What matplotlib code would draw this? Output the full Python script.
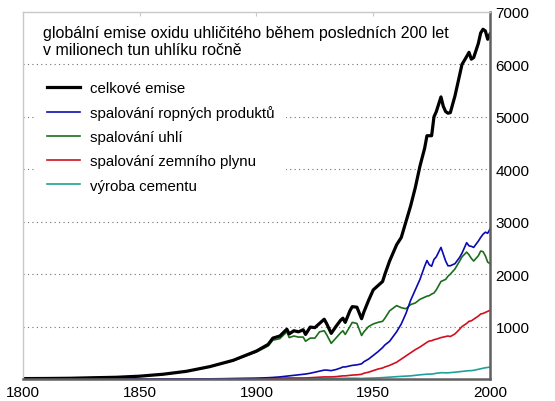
import matplotlib
matplotlib.use("Agg")
import matplotlib.pyplot as plt

plt.rcParams['font.family'] = ['Liberation Sans', 'DejaVu Sans']

years = [1800, 1810, 1820, 1830, 1840, 1850, 1860, 1870, 1880, 1890,
         1900, 1905, 1907, 1910, 1913, 1914, 1916, 1918, 1920, 1921,
         1923, 1925, 1927, 1929, 1930, 1932, 1934, 1936, 1937, 1938,
         1940, 1941, 1943, 1945, 1946, 1948, 1950, 1952, 1954, 1955,
         1957, 1960, 1962, 1964, 1966, 1968, 1970, 1972, 1973, 1974,
         1975, 1976, 1977, 1979, 1980, 1981, 1982, 1983, 1985, 1987,
         1988, 1990, 1991, 1992, 1993, 1995, 1996, 1997, 1998, 1999,
         2000]

total = [8, 10, 14, 24, 33, 54, 91, 147, 236, 356,
         534, 660, 780, 820, 950, 860, 920, 900, 940, 850,
         990, 980, 1060, 1140, 1060, 870, 1000, 1120, 1160, 1080,
         1300, 1380, 1370, 1150, 1280, 1500, 1700, 1780, 1860, 2000,
         2250, 2560, 2700, 3000, 3300, 3650, 4060, 4400, 4640, 4640,
         4640, 5000, 5100, 5380, 5200, 5100, 5070, 5080, 5400, 5800,
         6000, 6150, 6230, 6100, 6130, 6400, 6600, 6670, 6640, 6480,
         6580]

coal = [8, 10, 14, 24, 33, 54, 91, 147, 235, 350,
        515, 630, 740, 770, 900, 790, 820, 800, 800, 720,
        780, 780, 900, 920, 850, 680, 780, 880, 920, 850,
        1000, 1080, 1060, 830, 900, 1000, 1050, 1080, 1100, 1160,
        1300, 1400, 1360, 1340, 1420, 1450, 1520, 1560, 1580, 1590,
        1620, 1640, 1700, 1860, 1880, 1900, 1960, 2000, 2100, 2250,
        2330, 2420, 2370, 2300, 2250, 2350, 2440, 2430, 2350, 2230,
        2200]

oil = [0, 0, 0, 0, 0, 0, 0, 1, 3, 9,
       16, 25, 30, 40, 55, 60, 70, 80, 90, 95,
       110, 130, 150, 170, 170, 160, 180, 210, 230, 230,
       250, 260, 270, 290, 330, 380, 450, 520, 600, 650,
       720, 900, 1050, 1250, 1500, 1700, 1900, 2150, 2260, 2180,
       2150, 2280, 2330, 2510, 2380, 2250, 2160, 2160, 2200, 2320,
       2400, 2600, 2540, 2530, 2510, 2630, 2700, 2760, 2800, 2780,
       2860]

gas = [0, 0, 0, 0, 0, 0, 0, 0, 0, 5,
       8, 10, 12, 15, 20, 20, 20, 20, 20, 20,
       25, 30, 35, 40, 40, 40, 45, 55, 60, 60,
       70, 75, 80, 90, 110, 130, 160, 190, 210, 230,
       260, 320, 380, 440, 500, 560, 610, 670, 700, 725,
       730, 750, 760, 790, 800, 810, 820, 810, 860, 950,
       1000, 1060, 1100, 1110, 1140, 1200, 1240, 1250, 1270, 1290,
       1310]

cement = [0, 0, 0, 0, 0, 0, 0, 0, 0, 0,
          2, 3, 4, 5, 6, 6, 6, 6, 7, 7,
          8, 9, 10, 11, 11, 10, 11, 13, 14, 14,
          15, 15, 14, 10, 13, 16, 18, 22, 26, 30,
          35, 45, 50, 55, 60, 70, 80, 88, 92, 93,
          95, 100, 110, 120, 120, 118, 118, 122, 130, 140,
          145, 155, 158, 160, 165, 185, 195, 205, 215, 220,
          230]

labels = ["celkové emise", "spalování ropných produktů", "spalování uhlí",
          "spalování zemního plynu", "výroba cementu"]
title = "globální emise oxidu uhličitého během posledních 200 let\nv milionech tun uhlíku ročně"

fig = plt.figure(figsize=(5.55, 4.02), dpi=100)
ax = fig.add_axes([0.0414, 0.0547, 0.8415, 0.913])

# grid first so the legend box hides it
for v in range(1000, 7000, 1000):
    ax.axhline(v, color="#707070", lw=0.8, ls=(0, (1, 3)), zorder=0)

l_cem, = ax.plot(years, cement, color="#20a09a", lw=1.2)
l_gas, = ax.plot(years, gas, color="#d0101e", lw=1.2)
l_coal, = ax.plot(years, coal, color="#1a6e1a", lw=1.2)
l_oil, = ax.plot(years, oil, color="#0a0ab0", lw=1.2)
l_tot, = ax.plot(years, total, color="black", lw=2.3)

ax.set_xlim(1800, 2000)
ax.set_ylim(0, 7000)
ax.set_xticks([1800, 1850, 1900, 1950, 2000])
ax.set_yticks([1000, 2000, 3000, 4000, 5000, 6000, 7000])
ax.yaxis.tick_right()
ax.tick_params(axis="both", length=0, labelsize=11, pad=4)

for s in ["left", "top"]:
    ax.spines[s].set_color("#c8c8c8")
    ax.spines[s].set_linewidth(1)
for s in ["right", "bottom"]:
    ax.spines[s].set_color("#606060")
    ax.spines[s].set_linewidth(1.8)

top = ax.secondary_xaxis("top")
top.set_xticks([1850, 1900, 1950])
top.tick_params(direction="in", length=3, color="#c8c8c8", labeltop=False)
top.spines["top"].set_visible(False)

ax.text(0.043, 0.965, title, transform=ax.transAxes, ha="left", va="top",
        fontsize=11.5, linespacing=1.15)

leg = ax.legend([l_tot, l_oil, l_coal, l_gas, l_cem], labels, loc="upper left",
                bbox_to_anchor=(0.0257, 0.845), borderaxespad=0, borderpad=0.8,
                fontsize=10.8, handlelength=2.2, handletextpad=0.65,
                labelspacing=0.68, frameon=True, fancybox=False)
leg.get_frame().set_facecolor("white")
leg.get_frame().set_edgecolor("none")
leg.get_frame().set_alpha(1)

fig.savefig("out.png", dpi=100)
